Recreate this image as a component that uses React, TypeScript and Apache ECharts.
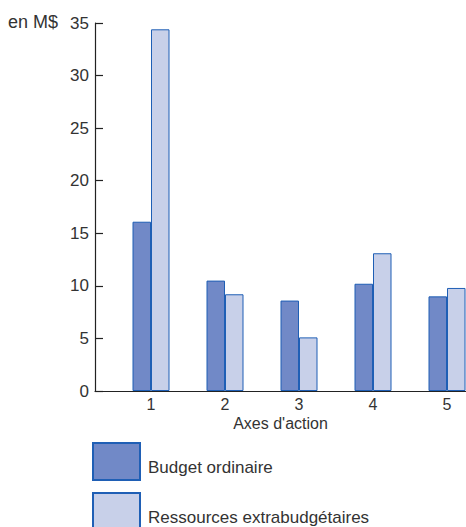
import React, { useEffect, useRef } from "react";
import * as echarts from "echarts";

// Axes d'action and the two funding sources, in millions of dollars
const categories = ["1", "2", "3", "4", "5"];
const budgetOrdinaire = [16.1, 10.5, 8.6, 10.2, 9.0];
const ressourcesExtra = [34.4, 9.2, 5.1, 13.1, 9.8];
const seriesNames = ["Budget ordinaire", "Ressources extrabudgétaires"];

const FONT = "'Liberation Sans', Arial, Helvetica, sans-serif";
const TEXT = "#333333";
const AXIS = "#222222";
const EDGE = "#1f5fb5";

// the plot runs past the right edge of the visible frame
const CHART_W = 500;
const VIEW_W = 466;

export default function App() {
  const ref = useRef<HTMLDivElement>(null);

  useEffect(() => {
    if (!ref.current) return;
    const chart = echarts.init(ref.current, undefined, { renderer: "svg" });
    chart.setOption({
      animation: false,
      textStyle: { fontFamily: FONT, color: TEXT },
      graphic: [
        {
          type: "text",
          left: 8,
          top: 13,
          style: { text: "en M$", fontSize: 18, fontFamily: FONT, fill: TEXT },
        },
      ],
      legend: {
        orient: "vertical",
        left: 92,
        top: 442,
        height: 200,
        padding: 0,
        itemWidth: 47,
        itemHeight: 37,
        itemGap: 11,
        icon: "rect",
        data: seriesNames,
        formatter: (name: string) => `{lbl|${name}}`,
        textStyle: {
          fontSize: 17,
          fontFamily: FONT,
          color: TEXT,
          rich: {
            lbl: { fontSize: 17, fontFamily: FONT, color: TEXT, padding: [12, 0, 0, 3] },
          },
        },
      },
      grid: [
        { left: 114, top: 23, width: 370, height: 368 },
        { left: 95, top: 23, right: CHART_W - VIEW_W, height: 368 },
      ],
      xAxis: [
        {
          type: "category",
          gridIndex: 0,
          data: categories,
          axisLine: { show: false },
          axisTick: { show: false },
          axisLabel: { margin: 5, fontSize: 16, fontFamily: FONT, color: TEXT },
        },
        {
          type: "value",
          gridIndex: 1,
          min: 0,
          max: 1,
          axisLine: { show: true, lineStyle: { color: AXIS, width: 1.2 } },
          axisTick: { show: false },
          axisLabel: { show: false },
          splitLine: { show: false },
          name: "Axes d'action",
          nameLocation: "middle",
          nameGap: 24,
          nameTextStyle: { fontSize: 16, fontFamily: FONT, color: TEXT },
        },
      ],
      yAxis: [
        {
          type: "value",
          gridIndex: 0,
          min: 0,
          max: 35,
          interval: 5,
          offset: 19,
          axisLine: { show: true, lineStyle: { color: AXIS, width: 1.2 } },
          axisTick: { show: true, inside: true, length: 8, lineStyle: { color: AXIS, width: 1.2 } },
          axisLabel: { margin: 6, fontSize: 17, fontFamily: FONT, color: TEXT },
          splitLine: { show: false },
        },
        { type: "value", gridIndex: 1, show: false, min: 0, max: 1 },
      ],
      series: [
        {
          name: seriesNames[0],
          type: "bar",
          xAxisIndex: 0,
          yAxisIndex: 0,
          data: budgetOrdinaire,
          barWidth: 18.5,
          barGap: "0%",
          itemStyle: { color: "#7189c7", borderColor: EDGE, borderWidth: 1 },
        },
        {
          name: seriesNames[1],
          type: "bar",
          xAxisIndex: 0,
          yAxisIndex: 0,
          data: ressourcesExtra,
          barWidth: 18.5,
          barGap: "0%",
          itemStyle: { color: "#c8d0e9", borderColor: EDGE, borderWidth: 1 },
        },
      ],
    });
    return () => chart.dispose();
  }, []);

  return (
    <div
      style={{
        position: "fixed",
        left: 0,
        top: 0,
        width: VIEW_W,
        height: 527,
        overflow: "hidden",
        background: "#ffffff",
      }}
    >
      <div ref={ref} style={{ width: CHART_W, height: 527 }} />
    </div>
  );
}
